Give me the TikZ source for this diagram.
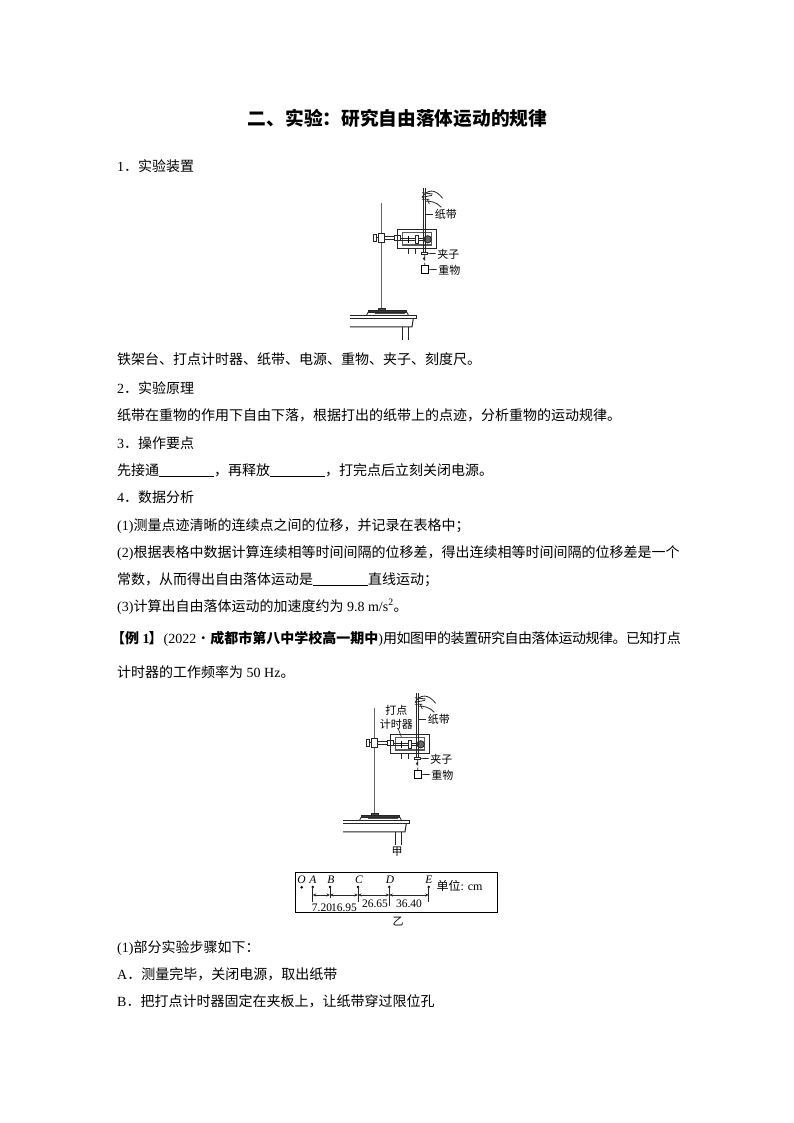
\documentclass[tikz,border=0pt]{standalone}
\usepackage{fontspec}
\setmainfont{Liberation Serif}
\newfontfamily\cjk{Noto Sans CJK SC}
\newfontfamily\cjktight[LetterSpace=-3.5]{Noto Sans CJK SC}
\usetikzlibrary{arrows.meta, calc}
\tikzset{
  bodyline/.style={anchor=base west, inner sep=0pt, font=\fontsize{14}{14}\selectfont},
  partlabel/.style={inner sep=0pt, font=\cjk\fontsize{11}{11}\selectfont},
  rulerlabel/.style={inner sep=0pt, font=\fontsize{11.5}{11.5}\selectfont},
  rulerletter/.style={inner sep=0pt, font=\itshape\fontsize{11.5}{11.5}\selectfont},
  leader/.style={line width=.7pt, black!85},
  part/.style={line width=.8pt, black!85},
}
\newcommand{\blankline}{\underline{\hspace{55pt}}}
% iron stand, timer, tape and weight; local units are thirds of a pixel
\newcommand{\apparatus}[3]{%
\begin{scope}[shift={(#1,#2)}, x=.3333pt, y=-.3333pt, name prefix=#3-]
  % stand and table
  \draw[line width=1.5pt, black!60] (125,70) -- (125,385);
  \filldraw[part, fill=black!70] (115,385) rectangle (135,391);
  \filldraw[part, fill=black!75] (85,391) rectangle (200,396);
  \draw[part] (80,405) -- (85,396) -- (200,396) -- (205,405);
  \draw[line width=1pt, black!70] (105,402) -- (195,402);
  \draw[part] (30,405) -- (230,405) -- (230,415) -- (30,415);
  \draw[line width=1pt, black!85] (30,441) -- (216,441) -- (220,415);
  \draw[part] (188,441) -- (188,480) (206,441) -- (206,480);
  % clamp
  \draw[part] (100,163) rectangle (108,183);
  \draw[part] (108,173) -- (115,173);
  \filldraw[part, fill=white] (115,160) rectangle (134,186);
  \draw[part] (134,170) -- (163,170) (134,177) -- (163,177);
  \draw[part] (163,165) rectangle (180,181);
  % timer
  \draw[line width=.9pt, black!85] (172,148) rectangle (288,205);
  \draw[line width=1.1pt, black!65] (188,158) rectangle (275,195);
  \draw[part] (180,175) -- (252,175) (180,180) -- (252,180);
  \draw[line width=1.1pt] (205,168) -- (205,190);
  \filldraw[part, fill=white] (226,167) rectangle (235,190);
  \filldraw[part, fill=black!60] (263,178) circle (11);
  \draw[part] (205,205) -- (205,222) (225,205) -- (225,222);
  % tape, clip and weight
  \draw[part] (249,25) -- (249,218) (257,25) -- (257,218);
  \filldraw[part, fill=white] (245,217) rectangle (263,224);
  \draw[part] (254,224) -- (254,240) arc (-90:90:-4) (254,248) -- (254,258);
  \draw[line width=1pt] (245,258) rectangle (265,282);
  % hand
  \draw[part] (246,52) .. controls (262,28) and (285,25) .. (308,55);
  \draw[part] (246,38) -- (278,42) (246,52) -- (276,46);
  \draw[part] (256,64) .. controls (270,62) and (290,66) .. (304,82);
  \draw[part] (246,58) -- (268,58) (262,58) -- (268,72);
  % parts
  \node[partlabel, inner xsep=1.5pt] (tape) at (318,104) {纸带};
  \node[partlabel, inner xsep=1.5pt] (clip) at (325,222) {夹子};
  \node[partlabel, inner xsep=1.5pt] (weight) at (328,270) {重物};
  \coordinate (tapeEnd) at (257,104);
  \coordinate (clipEnd) at (263,220);
  \coordinate (weightEnd) at (265,268);
  \draw[leader] (tapeEnd) -- (tape);
  \draw[leader] (clipEnd) -- (clip);
  \draw[leader] (weightEnd) -- (weight);
\end{scope}}

\begin{document}
\begin{tikzpicture}[x=1pt, y=-1pt]
  \useasboundingbox (0,0) rectangle (794,1123);
  \fill[white] (0,0) rectangle (794,1123);
  \node[inner sep=0pt, font=\cjk\bfseries\fontsize{18.7}{18.7}\selectfont] (title) at (397.5,118) {二、实验：研究自由落体运动的规律};

  \node[bodyline] (head1) at (117,172) {1\cjk．实验装置};
  \apparatus{340}{180}{first}
  \node[bodyline] (list) at (117,364) {\cjk 铁架台、打点计时器、纸带、电源、重物、夹子、刻度尺。};
  \node[bodyline] (head2) at (117,393) {2\cjk．实验原理};
  \node[bodyline] (tapeline) at (117,420) {\cjk 纸带在重物的作用下自由下落，根据打出的纸带上的点迹，分析重物的运动规律。};
  \node[bodyline] (head3) at (117,448) {3\cjk．操作要点};
  \node[bodyline] (stepline) at (117,475) {{\cjk 先接通}\blankline{\cjk ，再释放}\blankline{\cjk ，打完点后立刻关闭电源。}};
  \node[bodyline] (head4) at (117,502) {4\cjk．数据分析};
  \node[bodyline] (data1) at (117,530) {(1){\cjk 测量点迹清晰的连续点之间的位移，并记录在表格中；}};
  \node[bodyline] (data2) at (117,557) {(2){\cjk 根据表格中数据计算连续相等时间间隔的位移差，得出连续相等时间间隔的位移差是一个}};
  \node[bodyline] (data2b) at (117,584) {{\cjk 常数，从而得出自由落体运动是}\blankline{\cjk 直线运动；}};
  \node[bodyline] (data3) at (117,611) {(3){\cjk 计算出自由落体运动的加速度约为} 9.8 m/s\textsuperscript{2}{\cjk 。}};
  \node[bodyline] (example) at (117,643) {\hspace{-6pt}{\cjk\bfseries 【例}\textbf{ 1}\hspace{-1pt}{\cjk\bfseries 】}\hspace{1pt}(2022{\cjktight ·}{\cjk\bfseries 成都市第八中学校高一期中}){\cjktight 用如图甲的装置研究自由落体运动规律。已知打点}};
  \node[bodyline] (example2) at (117,677) {{\cjk 计时器的工作频率为} 50 Hz{\cjk 。}};

  % figure jia
  \apparatus{333}{685}{second}
  \begin{scope}[shift={(333,685)}, x=.3333pt, y=-.3333pt]
    \node[partlabel] (timerA) at (190,75) {打点};
    \node[partlabel] (timerB) at (190,117) {计时器};
    \coordinate (timerEnd) at (205,155);
    \draw[leader] (timerB) -- (timerEnd);
  \end{scope}
  \node[partlabel] (jia) at (397,852) {甲};

  % figure yi: the tape
  \draw[line width=1pt] (295.7,872.7) rectangle (497.3,912.7);
  \node[rulerletter] (labO) at (301.5,880) {O};
  \node[rulerletter] (labA) at (313,880) {A};
  \node[rulerletter] (labB) at (331,880) {B};
  \node[rulerletter] (labC) at (359,880) {C};
  \node[rulerletter] (labD) at (390,880) {D};
  \node[rulerletter] (labE) at (429,879.5) {E};
  \fill (301.7,887.3) circle (1.4) coordinate (dotO);
  \fill (312.7,887) circle (1.4) coordinate (dotA);
  \fill (330,887) circle (1.4) coordinate (dotB);
  \fill (358,887) circle (1.4) coordinate (dotC);
  \fill (389.3,887) circle (1.4) coordinate (dotD);
  \fill (428.7,887) circle (1.4) coordinate (dotE);
  \coordinate (endA) at (312.7,902);
  \coordinate (endB) at (330,898);
  \coordinate (endC) at (358,902);
  \coordinate (endD) at (389.3,906);
  \coordinate (endE) at (428.7,902);
  \coordinate (arrowRow) at (0,895);
  \draw[part] (dotA) -- (endA);
  \draw[part] (dotB) -- (endB);
  \draw[part] (dotC) -- (endC);
  \draw[part] (dotD) -- (endD);
  \draw[part] (dotE) -- (endE);
  \foreach \from/\to in {A/B, B/C, C/D, D/E}{
    \draw[part, {Stealth[length=3.5pt,width=3pt]}-{Stealth[length=3.5pt,width=3pt]}]
      (dot\from |- arrowRow) -- (dot\to |- arrowRow);
  }
  \node[rulerlabel] (dist1) at (322,907.5) {7.20};
  \node[rulerlabel] (dist2) at (344,907.5) {16.95};
  \node[rulerlabel] (dist3) at (375,904) {26.65};
  \node[rulerlabel] (dist4) at (409,904) {36.40};
  \node[inner sep=0pt, font=\fontsize{12}{12}\selectfont] (unit) at (459.5,886) {{\cjk 单位}: cm};
  \node[partlabel] (yi) at (398,922) {乙};

  \node[bodyline] (steps) at (117,952) {(1){\cjk 部分实验步骤如下：}};
  \node[bodyline] (stepA) at (117,979) {A{\cjk ．测量完毕，关闭电源，取出纸带}};
  \node[bodyline] (stepB) at (117,1006) {B{\cjk ．把打点计时器固定在夹板上，让纸带穿过限位孔}};
\end{tikzpicture}
\end{document}
